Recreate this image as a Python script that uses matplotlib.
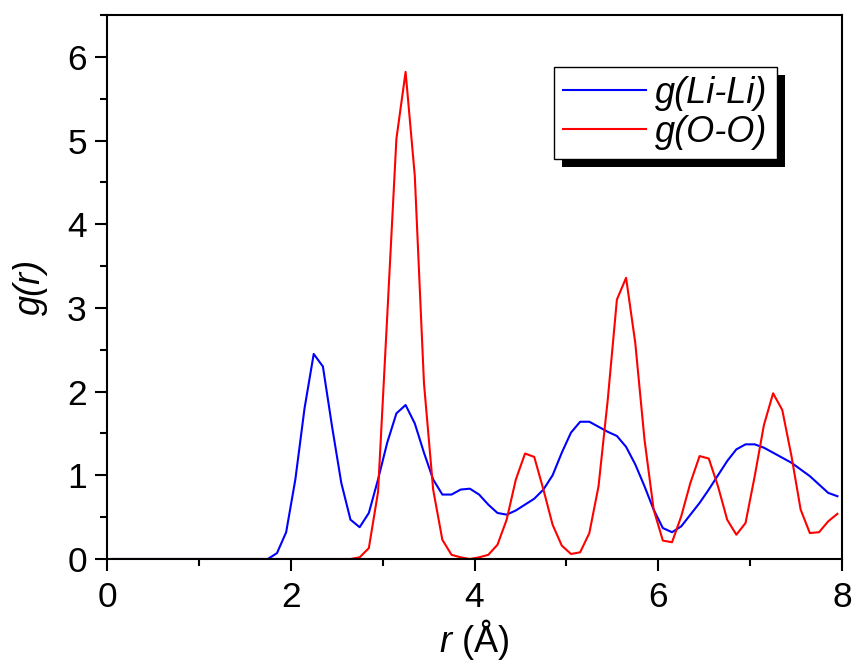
import numpy as np
import matplotlib
matplotlib.use("Agg")
import matplotlib.pyplot as plt
from matplotlib.patches import Rectangle
from matplotlib.ticker import MultipleLocator
from matplotlib.transforms import IdentityTransform

# radial grid (A) and the two pair distribution functions
r = [0.05, 0.15, 0.25, 0.35, 0.45, 0.55, 0.65, 0.75, 0.85, 0.95,
     1.05, 1.15, 1.25, 1.35, 1.45, 1.55, 1.65, 1.75, 1.85, 1.95,
     2.05, 2.15, 2.25, 2.35, 2.45, 2.55, 2.65, 2.75, 2.85, 2.95,
     3.05, 3.15, 3.25, 3.35, 3.45, 3.55, 3.65, 3.75, 3.85, 3.95,
     4.05, 4.15, 4.25, 4.35, 4.45, 4.55, 4.65, 4.75, 4.85, 4.95,
     5.05, 5.15, 5.25, 5.35, 5.45, 5.55, 5.65, 5.75, 5.85, 5.95,
     6.05, 6.15, 6.25, 6.35, 6.45, 6.55, 6.65, 6.75, 6.85, 6.95,
     7.05, 7.15, 7.25, 7.35, 7.45, 7.55, 7.65, 7.75, 7.85, 7.95]

g_lili = [0, 0, 0, 0, 0, 0, 0, 0, 0, 0,
          0, 0, 0, 0, 0, 0, 0, 0.0, 0.07, 0.32,
          0.95, 1.80, 2.45, 2.30, 1.58, 0.91, 0.47, 0.38, 0.55, 0.95,
          1.39, 1.74, 1.84, 1.62, 1.27, 0.95, 0.77, 0.77, 0.83, 0.84,
          0.77, 0.65, 0.55, 0.53, 0.58, 0.65, 0.72, 0.83, 1.00, 1.27,
          1.51, 1.64, 1.64, 1.58, 1.52, 1.47, 1.34, 1.13, 0.87, 0.59,
          0.37, 0.32, 0.39, 0.53, 0.67, 0.83, 1.00, 1.17, 1.31, 1.37,
          1.37, 1.33, 1.27, 1.21, 1.15, 1.07, 0.99, 0.89, 0.79, 0.75]

g_oo = [0, 0, 0, 0, 0, 0, 0, 0, 0, 0,
        0, 0, 0, 0, 0, 0, 0, 0, 0, 0,
        0, 0, 0, 0, 0, 0, 0, 0.02, 0.13, 0.80,
        2.90, 5.02, 5.82, 4.58, 2.10, 0.83, 0.23, 0.05, 0.02, 0.00,
        0.02, 0.05, 0.17, 0.47, 0.95, 1.26, 1.22, 0.83, 0.41, 0.16,
        0.06, 0.08, 0.31, 0.87, 1.90, 3.10, 3.36, 2.58, 1.43, 0.59,
        0.22, 0.20, 0.51, 0.91, 1.23, 1.20, 0.87, 0.47, 0.29, 0.43,
        0.99, 1.60, 1.98, 1.78, 1.23, 0.59, 0.31, 0.32, 0.45, 0.54]

plt.rcParams['font.family'] = ['Liberation Sans', 'DejaVu Sans']
plt.rcParams['mathtext.fontset'] = 'custom'
plt.rcParams['mathtext.rm'] = 'Liberation Sans'
plt.rcParams['mathtext.it'] = 'Liberation Sans:italic'

fig = plt.figure(figsize=(8.56, 6.64), dpi=100)
ax = fig.add_axes([107/856, 1 - 559/664, (842 - 107)/856, (559 - 15)/664])

ax.plot(r, g_lili, color='#0000ff', lw=1.5, label='g(Li-Li)')
ax.plot(r, g_oo, color='#ff0000', lw=1.5, label='g(O-O)')

ax.set_xlim(0, 8)
ax.set_ylim(0, 6.5)
ax.xaxis.set_major_locator(MultipleLocator(2))
ax.xaxis.set_minor_locator(MultipleLocator(1))
ax.yaxis.set_major_locator(MultipleLocator(1))
ax.yaxis.set_minor_locator(MultipleLocator(0.5))
ax.tick_params(which='major', direction='out', length=8.5, width=1.5,
               labelsize=25.5, pad=6)
ax.tick_params(axis='x', which='major', pad=7.5)
ax.tick_params(which='minor', direction='out', length=5, width=1.5)
for s in ax.spines.values():
    s.set_linewidth(1.5)

ax.set_xlabel(r'$r$ (Å)', fontsize=26, labelpad=2)
ax.set_ylabel('g(r)', fontsize=26, style='italic', labelpad=14)

leg = ax.legend(loc='upper left', bbox_to_anchor=(554/856, 1 - 67/664),
                bbox_transform=fig.transFigure, borderaxespad=0,
                fancybox=False, edgecolor='black', framealpha=1,
                prop={'size': 26, 'style': 'italic'},
                handlelength=2.3, handletextpad=0.25, borderpad=0.25,
                labelspacing=0.1)
leg.get_frame().set_linewidth(1.0)

# black drop shadow behind the legend box
fig.canvas.draw()
bb = leg.get_window_extent()
ax.add_patch(Rectangle((bb.x0 + 8, bb.y0 - 8), bb.width, bb.height,
                       transform=IdentityTransform(), facecolor='black',
                       edgecolor='none', clip_on=False, zorder=4.5))

fig.savefig('out.png', dpi=100)
